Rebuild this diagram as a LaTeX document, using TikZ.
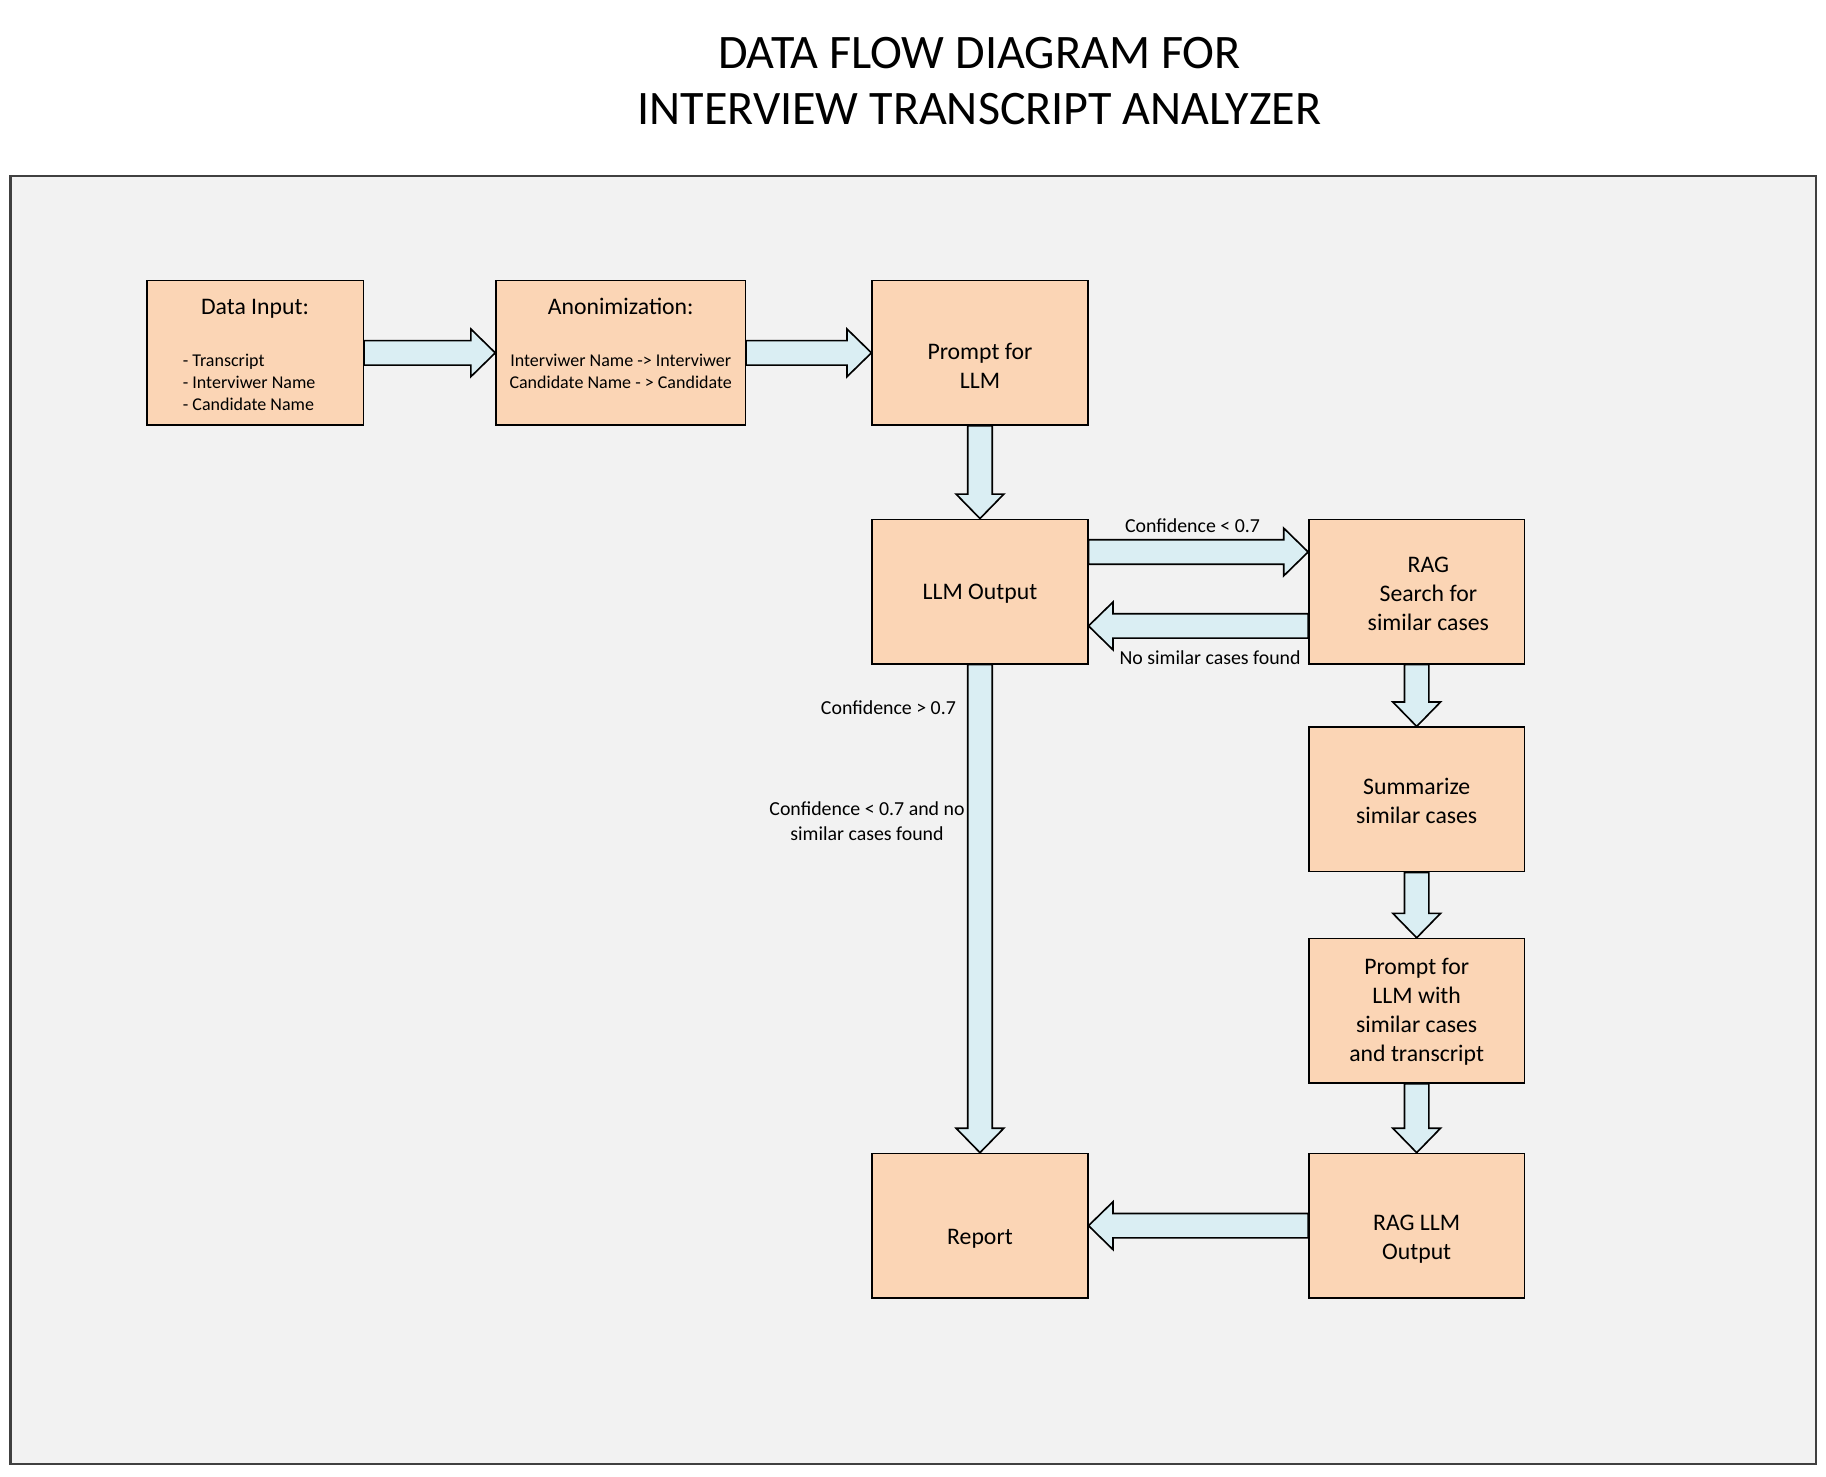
\documentclass[tikz,border=0pt]{standalone}
\usepackage{fontspec}
\setmainfont{Carlito}
\usetikzlibrary{calc,positioning}
\definecolor{peach}{HTML}{FBD5B5}
\definecolor{paleaqua}{HTML}{DAEEF3}
\definecolor{panelgray}{HTML}{F2F2F2}
\definecolor{framegray}{HTML}{404040}

\newcommand{\boxfont}{\fontsize{5.8}{7.1}\selectfont}
\newcommand{\listfont}{\fontsize{4.4}{5.4}\selectfont}
\newcommand{\notefont}{\fontsize{4.85}{6}\selectfont}
\newcommand{\titlefont}{\fontsize{11.75}{13.7}\selectfont}

\tikzset{
  stage/.style={draw, fill=peach, line width=0.4pt, minimum width=1.85cm, minimum height=1.24cm, align=center, font=\boxfont, inner sep=0pt},
  boxtext/.style={align=center, font=\boxfont, inner sep=0pt},
  fatarrow/.style={draw, fill=paleaqua, line width=0.4pt, line join=miter},
  note/.style={font=\notefont, align=center, inner sep=0pt},
}

% block arrow from #1 to #2
\newcommand{\fatarrow}[2]{%
  \path let \p1=(#1), \p2=(#2) in \pgfextra{%
    \pgfmathparse{atan2(\y2-\y1,\x2-\x1)}\xdef\arrowang{\pgfmathresult}%
    \pgfmathparse{veclen(\x2-\x1,\y2-\y1)}\xdef\arrowlen{\pgfmathresult}};
  \begin{scope}[shift={(#1)}, rotate=\arrowang]
    \draw[fatarrow] (0pt,-0.105cm) -- ({\arrowlen pt-0.21cm},-0.105cm) -- ({\arrowlen pt-0.21cm},-0.205cm)
      -- ({\arrowlen pt},0pt) -- ({\arrowlen pt-0.21cm},0.205cm) -- ({\arrowlen pt-0.21cm},0.105cm) -- (0pt,0.105cm) -- cycle;
  \end{scope}}

\begin{document}
\begin{tikzpicture}
  \useasboundingbox (0,0) rectangle (15.68,-12.68);
  \fill[white] (0,0) rectangle (15.68,-12.68);

  \node[font=\titlefont, align=center] (title) at (8.41,-0.70) {DATA FLOW DIAGRAM FOR\\INTERVIEW TRANSCRIPT ANALYZER};

  % panel
  \draw[framegray, fill=panelgray, line width=0.5pt] (0.09,-1.51) rectangle (15.59,-12.57);

  % stages
  \node[stage, minimum width=1.86cm] (input) at (2.19,-3.03) {};
  \node[font=\boxfont] (inputhead) at ($(input.north)+(0,-0.245)$) {Data Input:};
  \node[font=\listfont, align=left, anchor=west, inner sep=0pt] (inputlist) at ($(input.west)+(0.31,-0.255)$) {- Transcript\\- Interviwer Name\\- Candidate Name};

  \node[stage, minimum width=2.14cm] (anon) at (5.33,-3.03) {};
  \node[font=\boxfont] (anonhead) at ($(anon.north)+(0,-0.23)$) {Anonimization:};
  \node[font=\listfont, align=center, inner sep=0pt] (anonlist) at ($(anon.center)+(0,-0.16)$) {Interviwer Name -> Interviwer\\Candidate Name - > Candidate};

  \node[stage, label={[boxtext, yshift=-0.115cm]center:Prompt for\\LLM}] (prompt) at (8.415,-3.03) {};
  \node[stage, label={[boxtext, yshift=-0.02cm]center:LLM Output}] (llm) at (8.415,-5.08) {};
  \node[stage, label={[boxtext, xshift=0.1cm, yshift=-0.02cm]center:RAG\\Search for\\similar cases}] (rag) at (12.165,-5.08) {};
  \node[stage, label={[boxtext, yshift=-0.01cm]center:Summarize\\similar cases}] (summ) at (12.165,-6.865) {};
  \node[stage, label={[boxtext, yshift=-0.01cm]center:Prompt for\\LLM with\\similar cases\\and transcript}] (ragprompt) at (12.165,-8.68) {};
  \node[stage, label={[boxtext, yshift=-0.115cm]center:RAG LLM\\Output}] (ragout) at (12.165,-10.525) {};
  \node[stage, label={[boxtext, yshift=-0.115cm]center:Report}] (report) at (8.415,-10.525) {};

  % flows
  \fatarrow{input.east}{anon.west}
  \fatarrow{anon.east}{prompt.west}
  \fatarrow{prompt.south}{llm.north}
  \fatarrow{$(llm.east)+(0,0.34)$}{$(rag.west)+(0,0.34)$}
  \fatarrow{$(rag.west)+(0,-0.295)$}{$(llm.east)+(0,-0.295)$}
  \fatarrow{llm.south}{report.north}
  \fatarrow{rag.south}{summ.north}
  \fatarrow{summ.south}{ragprompt.north}
  \fatarrow{ragprompt.south}{ragout.north}
  \fatarrow{ragout.west}{report.east}

  % conditions
  \node[note] (lowconf) at (10.24,-4.515) {Confidence < 0.7};
  \node[note, anchor=east] (nomatch) at (11.175,-5.645) {No similar cases found};
  \node[note, anchor=east] (highconf) at (8.215,-6.075) {Confidence > 0.7};
  \node[note] (fallback) at (7.445,-7.05) {Confidence < 0.7 and no\\similar cases found};
\end{tikzpicture}
\end{document}
